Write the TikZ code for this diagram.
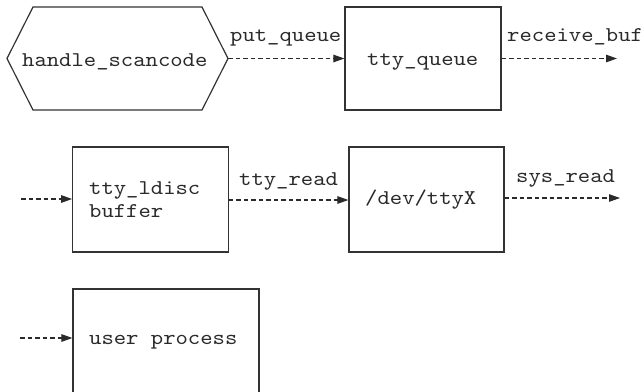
\documentclass[tikz,border=0pt]{standalone}
\usepackage{fontspec}
\setmonofont[FakeStretch=1.12]{lmmono10-regular.otf}
\usetikzlibrary{arrows.meta}
\definecolor{ink}{HTML}{2A2A2A}
\definecolor{edge}{HTML}{333333}
\tikzset{
  box/.style={draw=edge, line width=1.2pt, inner sep=0pt},
  txt/.style={inner sep=0pt, anchor=base west, text=ink,
    font=\fontsize{21}{23}\selectfont\ttfamily},
  flow/.style={draw=ink, line width=1.1pt, dash pattern=on 4.5pt off 3pt,
    -{Triangle[length=11pt,width=7.5pt]}},
}
\begin{document}
\begin{tikzpicture}[x=1pt, y=-1pt]
  \clip (0,0) rectangle (644,391);
  \useasboundingbox (0,0) rectangle (644,391);

  % row 1: scancode handler and tty queue
  \coordinate (hsL)  at (7,58.5);
  \coordinate (hsTL) at (33,7);
  \coordinate (hsTR) at (202,7);
  \coordinate (hsR)  at (228,58.5);
  \coordinate (hsBR) at (202,110);
  \coordinate (hsBL) at (33,110);
  \draw[box] (hsL) -- (hsTL) -- (hsTR) -- (hsR) -- (hsBR) -- (hsBL) -- cycle;
  \node[txt] (hs) at (22,66) {handle\_scancode};

  \node[box, minimum width=156pt, minimum height=103pt] (tq) at (423,58.5) {};
  \node[txt] (tqt) at (367,65) {tty\_queue};

  \coordinate (rbEnd) at (617,58.5);
  \draw[flow] (hsR) -- (tq.west);
  \draw[flow] (tq.east) -- (rbEnd);
  \node[txt] (pq) at (230,41) {put\_queue};
  \node[txt] (rb) at (507,41) {receive\_buf};

  % row 2: line discipline buffer and tty device
  \node[box, minimum width=155.5pt, minimum height=105pt] (ld) at (150.5,199.5) {};
  \node[txt] (ld1) at (89,194) {tty\_ldisc};
  \node[txt] (ld2) at (89,217) {buffer};

  \node[box, minimum width=155pt, minimum height=105pt] (dev) at (426.5,199.5) {};
  \node[txt] (devt) at (365,204) {/dev/ttyX};

  \coordinate (ldIn) at (21,199);
  \coordinate (srEnd) at (620,198);
  \draw[flow] (ldIn) -- (ldIn -| ld.west);
  \draw[flow] (ld.east |- 0,200) -- (dev.west |- 0,200);
  \draw[flow] (dev.east |- srEnd) -- (srEnd);
  \node[txt] (tr) at (239,185) {tty\_read};
  \node[txt] (sr) at (516,182) {sys\_read};

  % row 3: user process
  \node[box, minimum width=186pt, minimum height=120pt] (up) at (166,349) {};
  \node[txt] (upt) at (89,344) {user process};
  \coordinate (upIn) at (20,338);
  \draw[flow] (upIn) -- (upIn -| up.west);
\end{tikzpicture}
\end{document}
